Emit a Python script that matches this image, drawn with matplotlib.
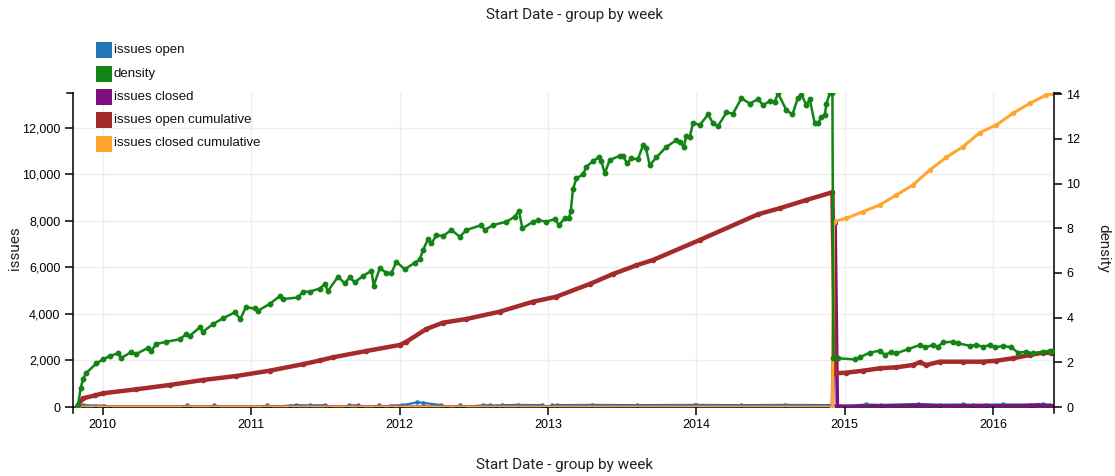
import matplotlib
matplotlib.use('Agg')
import matplotlib.pyplot as plt
from matplotlib.lines import Line2D
from matplotlib.patches import Rectangle

# ---------------- data (decimal years) ----------------
series_names = ["issues open", "density", "issues closed",
                "issues open cumulative", "issues closed cumulative"]
series_colors = ["#2077b4", "#138413", "#7d0f7e", "#a52a2a", "#ffa630"]

year_ticks = [2010, 2011, 2012, 2013, 2014, 2015, 2016]
issues_ticks = [0, 2000, 4000, 6000, 8000, 10000, 12000]
density_ticks = [0, 2, 4, 6, 8, 10, 12, 14]

density_x = [2009.834, 2009.852, 2009.867, 2009.890, 2009.958, 2010.002, 2010.047, 2010.103,
             2010.126, 2010.193, 2010.227, 2010.305, 2010.328, 2010.362, 2010.429, 2010.519,
             2010.564, 2010.586, 2010.654, 2010.676, 2010.743, 2010.811, 2010.889, 2010.928,
             2010.964, 2011.024, 2011.047, 2011.125, 2011.193, 2011.215, 2011.316, 2011.350,
             2011.395, 2011.462, 2011.496, 2011.518, 2011.586, 2011.631, 2011.664, 2011.698,
             2011.754, 2011.811, 2011.826, 2011.867, 2011.912, 2011.945, 2011.979, 2012.035,
             2012.102, 2012.136, 2012.158, 2012.192, 2012.215, 2012.249, 2012.293, 2012.350,
             2012.406, 2012.451, 2012.552, 2012.574, 2012.630, 2012.720, 2012.776, 2012.805,
             2012.828, 2012.900, 2012.933, 2012.990, 2013.046, 2013.075, 2013.113, 2013.142,
             2013.154, 2013.169, 2013.192, 2013.237, 2013.259, 2013.304, 2013.344, 2013.360,
             2013.383, 2013.416, 2013.484, 2013.506, 2013.533, 2013.563, 2013.607, 2013.641,
             2013.660, 2013.686, 2013.731, 2013.798, 2013.866, 2013.888, 2013.915, 2013.933,
             2013.956, 2013.978, 2014.023, 2014.079, 2014.113, 2014.146, 2014.203, 2014.247,
             2014.304, 2014.360, 2014.416, 2014.450, 2014.495, 2014.528, 2014.551, 2014.607,
             2014.648, 2014.683, 2014.708, 2014.742, 2014.764, 2014.798, 2014.820, 2014.843,
             2014.865, 2014.877, 2014.899, 2014.917, 2014.923, 2014.955, 2015.067, 2015.101,
             2015.168, 2015.236, 2015.270, 2015.315, 2015.348, 2015.427, 2015.505, 2015.539,
             2015.595, 2015.629, 2015.662, 2015.730, 2015.764, 2015.842, 2015.887, 2015.932,
             2015.977, 2016.011, 2016.067, 2016.123, 2016.168, 2016.224, 2016.269, 2016.336,
             2016.381, 2016.395]
density_y = [0.10, 0.85, 1.25, 1.53, 1.95, 2.13, 2.28, 2.40,
             2.20, 2.46, 2.37, 2.65, 2.52, 2.82, 2.92, 3.03,
             3.26, 3.18, 3.56, 3.37, 3.71, 3.97, 4.23, 3.94,
             4.46, 4.41, 4.31, 4.61, 4.96, 4.83, 4.90, 5.16,
             5.16, 5.30, 5.49, 5.20, 5.83, 5.53, 5.80, 5.58,
             5.86, 6.10, 5.43, 6.20, 6.01, 5.98, 6.50, 6.16,
             6.45, 6.60, 7.02, 7.50, 7.32, 7.69, 7.65, 7.92,
             7.62, 7.92, 8.14, 7.92, 8.14, 8.29, 8.51, 8.78,
             7.99, 8.29, 8.36, 8.29, 8.41, 8.14, 8.44, 8.44,
             8.78, 9.75, 10.23, 10.41, 10.75, 11.00, 11.19, 11.00,
             10.45, 11.05, 11.24, 11.24, 10.90, 11.12, 11.09, 11.72,
             11.60, 10.82, 11.17, 11.64, 11.94, 11.87, 11.64, 12.12,
             12.08, 12.73, 12.61, 13.09, 12.69, 12.57, 13.18, 13.13,
             13.81, 13.58, 13.77, 13.51, 13.69, 13.66, 14.03, 13.28,
             13.09, 13.81, 13.98, 13.51, 13.77, 12.69, 12.69, 12.98,
             13.05, 13.58, 14.03, 14.03, 2.18, 2.18, 2.13, 2.22,
             2.43, 2.52, 2.33, 2.47, 2.40, 2.59, 2.77, 2.67,
             2.77, 2.70, 2.89, 2.92, 2.85, 2.74, 2.77, 2.70,
             2.77, 2.67, 2.73, 2.67, 2.43, 2.47, 2.40, 2.47,
             2.52, 2.50]

open_cum_x = [2009.834, 2009.867, 2009.950, 2010.002, 2010.227, 2010.451, 2010.676, 2010.901,
              2011.125, 2011.350, 2011.462, 2011.552, 2011.777, 2012.001, 2012.047, 2012.181,
              2012.293, 2012.451, 2012.675, 2012.900, 2013.057, 2013.282, 2013.439, 2013.596,
              2013.708, 2014.023, 2014.416, 2014.562, 2014.742, 2014.917, 2014.935, 2015.011,
              2015.124, 2015.236, 2015.348, 2015.460, 2015.505, 2015.550, 2015.640, 2015.797,
              2015.932, 2016.022, 2016.134, 2016.247, 2016.336, 2016.393]
open_cum_y = [86, 374, 500, 589, 761, 946, 1161, 1333,
              1561, 1840, 2000, 2137, 2408, 2666, 2808, 3354,
              3625, 3784, 4098, 4528, 4743, 5289, 5719, 6090,
              6321, 7181, 8286, 8544, 8901, 9232, 1449, 1475,
              1561, 1664, 1707, 1806, 1922, 1806, 1948, 1948,
              1948, 1991, 2094, 2236, 2335, 2320]

closed_cum_x = [2009.834, 2014.917, 2014.925, 2015.011, 2015.124, 2015.236, 2015.348, 2015.460,
                2015.573, 2015.685, 2015.797, 2015.910, 2016.022, 2016.134, 2016.247, 2016.359,
                2016.393]
closed_cum_y = [0, 0, 7968, 8114, 8398, 8686, 9116, 9546,
                10191, 10737, 11193, 11795, 12126, 12629, 13059, 13416,
                13500]

closed_x = [2009.834, 2014.917, 2014.935, 2014.950, 2015.100, 2015.300, 2015.500, 2015.700,
            2015.900, 2016.100, 2016.300, 2016.393]
closed_y = [0, 0, 7900, 40, 30, 50, 70, 40, 60, 40, 80, 50]

open_x = [2009.834, 2009.870, 2009.950, 2010.010, 2010.050, 2010.550, 2010.570, 2010.590,
          2010.730, 2010.750, 2010.770, 2011.090, 2011.110, 2011.130, 2011.260, 2011.300,
          2011.400, 2011.500, 2011.530, 2011.640, 2011.660, 2011.720, 2011.740, 2011.840,
          2011.860, 2011.880, 2011.940, 2012.020, 2012.120, 2012.160, 2012.280, 2012.310,
          2012.390, 2012.410, 2012.430, 2012.560, 2012.610, 2012.650, 2012.690, 2012.800,
          2012.960, 2012.990, 2013.030, 2013.060, 2013.300, 2013.600, 2013.990, 2014.000,
          2014.300, 2014.600, 2014.917, 2014.950, 2015.146, 2015.247, 2015.494, 2015.640,
          2015.797, 2015.864, 2015.954, 2016.067, 2016.258, 2016.336, 2016.381]
open_y = [0, 80, 60, 60, 0, 0, 70, 0,
          0, 70, 0, 0, 70, 0, 60, 80,
          70, 80, 0, 0, 70, 70, 0, 0,
          70, 0, 60, 80, 200, 180, 80, 0,
          0, 70, 0, 70, 80, 60, 80, 90,
          80, 0, 70, 80, 90, 80, 90, 90,
          80, 90, 80, 0, 110, 90, 130, 100,
          110, 90, 100, 110, 100, 120, 100]

# ---------------- figure ----------------
W, H = 1115, 476
L, R, T, B = 73, 1054, 93, 407
fig = plt.figure(figsize=(W / 100, H / 100), dpi=100)
ax = fig.add_axes([L / W, 1 - B / H, (R - L) / W, (B - T) / H])
ax2 = ax.twinx()

tick_font = "Liberation Sans"
label_font = "Roboto"

ax.set_xlim(2009.80, 2016.41)
ax.set_ylim(0, 13500)
ax2.set_ylim(0, 14.05)

# gridlines
ax.set_xticks(year_ticks)
ax.set_xticklabels([str(y) for y in year_ticks])
ax.set_yticks(issues_ticks)
ax.set_yticklabels([f"{v:,}" for v in issues_ticks])
ax2.set_yticks(density_ticks)
ax2.set_yticklabels([str(v) for v in density_ticks])
ax.grid(True, color="#eeeeee", lw=1.0, zorder=0)
ax.set_axisbelow(True)

ax.plot(open_x, open_y, color=series_colors[0], lw=1.6, marker='o', ms=2.2, zorder=2)
ax.plot(closed_x, closed_y, color=series_colors[2], lw=2.6, marker='o', ms=2.5, zorder=3)
ax.plot(open_cum_x, open_cum_y, color=series_colors[3], lw=3.2, marker='o', ms=3.0, zorder=4)
ax.plot(closed_cum_x, closed_cum_y, color=series_colors[4], lw=2.2, marker='o', ms=2.8, zorder=5)
ax2.plot(density_x, density_y, color=series_colors[1], lw=1.8, marker='o', ms=3.2, zorder=3)

# spines
for s in ["top", "right"]:
    ax.spines[s].set_visible(False)
for s in ["top", "left", "bottom"]:
    ax2.spines[s].set_visible(False)
ax.spines["left"].set_linewidth(1.1)
ax.spines["bottom"].set_linewidth(1.1)
ax2.spines["right"].set_linewidth(1.1)

for a in (ax, ax2):
    a.tick_params(direction='out', length=6, width=1.1, labelsize=9, pad=3)
    for lab in a.get_xticklabels() + a.get_yticklabels():
        lab.set_fontfamily(tick_font)

# end caps on axis domains
dx = 6 / (R - L)
dy = 6 / (B - T)
cap_kw = dict(transform=ax.transAxes, color="black", lw=1.1, clip_on=False)
for xs, ys in [((-dx, 0), (1, 1)), ((1, 1 + dx), (1, 1)),
               ((0, 0), (0, -dy)), ((1, 1), (0, -dy))]:
    ax.add_line(Line2D(xs, ys, **cap_kw))

# titles / axis labels
fig.text(575 / W, 1 - 15 / H, "Start Date - group by week", ha="center", va="center",
         fontsize=11, family=label_font, color="#222222")
fig.text(564 / W, 1 - 465 / H, "Start Date - group by week", ha="center", va="center",
         fontsize=11, family=label_font, color="#222222")
fig.text(15 / W, 1 - 248 / H, "issues", ha="center", va="center", rotation=90,
         fontsize=11, family=label_font, color="#222222")
fig.text(1103 / W, 1 - 248 / H, "density", ha="center", va="center", rotation=270,
         fontsize=11, family=label_font, color="#222222")

# legend
for i, (name, col) in enumerate(zip(series_names, series_colors)):
    ytop = 42.3 + 23.3 * i
    fig.add_artist(Rectangle((96 / W, 1 - (ytop + 16) / H), 16 / W, 16 / H,
                             transform=fig.transFigure, facecolor=col, edgecolor="none"))
    fig.text(114 / W, 1 - (ytop + 8) / H, name, ha="left", va="center",
             fontsize=9.5, family=tick_font, color="#111111")

fig.savefig("out.png", dpi=100)
